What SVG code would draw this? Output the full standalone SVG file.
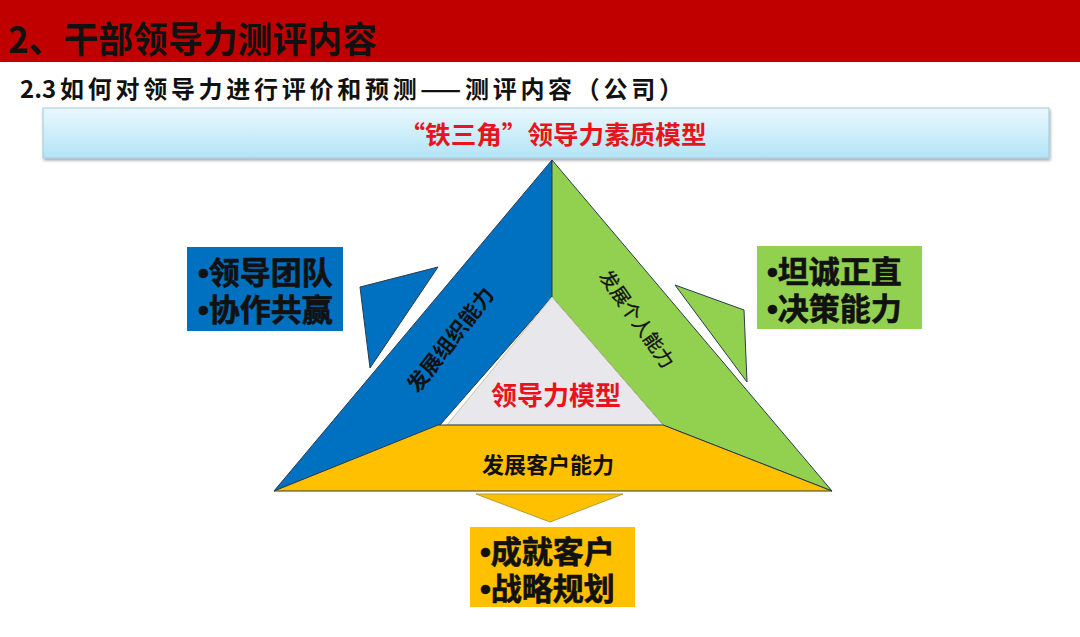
<svg xmlns="http://www.w3.org/2000/svg" width="1080" height="637" viewBox="0 0 1080 637">
<defs>
<linearGradient id="bannerGrad" x1="0" y1="0" x2="0" y2="1">
<stop offset="0" stop-color="#eaf8fd"/>
<stop offset="1" stop-color="#b3e4f6"/>
</linearGradient>
<filter id="shadow" x="-5%" y="-20%" width="110%" height="150%">
<feDropShadow dx="1" dy="2" stdDeviation="1.5" flood-color="#000" flood-opacity="0.35"/>
</filter>
</defs>
<style>
.cjk{font-family:"Noto Sans CJK SC","Noto Sans",sans-serif;font-weight:bold;}
.edge{stroke:#2b3b4d;stroke-width:1;stroke-linejoin:round;}
.box{font-size:31px;fill:#111;stroke:#111;stroke-width:0.6;}
.dot{font-family:"Liberation Sans",sans-serif;}
</style>
<rect x="0" y="0" width="1080" height="637" fill="#ffffff"/>
<g id="header">
<rect x="0" y="0" width="1080" height="62" fill="#c00000"/>
<text class="cjk" x="8" y="53" font-size="36" fill="#111" textLength="369" lengthAdjust="spacingAndGlyphs">2、干部领导力测评内容</text>
</g>
<g id="subtitle">
<text class="cjk" y="98" font-size="24" fill="#111"><tspan x="20">2.3</tspan><tspan x="60" textLength="623" lengthAdjust="spacing">如何对领导力进行评价和预测——测评内容（公司）</tspan></text>
</g>
<g id="banner">
<rect x="43" y="108" width="1006" height="50" fill="url(#bannerGrad)" stroke="#9fc9dc" stroke-width="1" filter="url(#shadow)"/>
<text class="cjk" x="553" y="144" font-size="25" fill="#e8141c" text-anchor="middle" textLength="307" lengthAdjust="spacingAndGlyphs">“铁三角”领导力素质模型</text>
</g>
<g id="blue-side">
<polygon class="edge" points="274,491 552,160 552,297 440,425" fill="#0070c0"/>
<text class="cjk" font-size="21" fill="#111" text-anchor="middle" transform="translate(451,340) rotate(-52)" dy="7">发展组织能力</text>
</g>
<g id="green-side">
<polygon class="edge" points="552,160 832,491 663,425 552,297" fill="#92d050"/>
<text font-family="Noto Sans CJK SC, sans-serif" font-size="19" fill="#111" stroke="#111" stroke-width="0.3" text-anchor="middle" transform="translate(637,319) rotate(55)" dy="7">发展个人能力</text>
</g>
<g id="core">
<polygon points="552,297 447,425 663,425" fill="#e8e7ec" stroke="#c9c2a0" stroke-width="1"/>
<text class="cjk" x="556" y="405" font-size="26" fill="#e8141c" text-anchor="middle">领导力模型</text>
</g>
<g id="yellow-side">
<polygon class="edge" points="274,491 438,425 663,425 832,491" fill="#ffc000" stroke="#8a7a3a"/>
<text class="cjk" x="548" y="473" font-size="22" fill="#111" text-anchor="middle">发展客户能力</text>
</g>
<g id="connectors">
<polygon class="edge" points="360,287 438,267 370,368" fill="#0070c0"/>
<polygon class="edge" points="675,285 744,310 747,382" fill="#92d050"/>
<polygon points="476,494 623,494 550,522" fill="#ffc000" stroke="#b89a3a" stroke-width="1"/>
</g>
<g id="box-left">
<rect x="187" y="247" width="156" height="84" fill="#0070c0"/>
<text class="cjk box"><tspan x="198" y="284"><tspan class="dot">•</tspan>领导团队</tspan><tspan x="198" y="321"><tspan class="dot">•</tspan>协作共赢</tspan></text>
</g>
<g id="box-right">
<rect x="757" y="246" width="165" height="83" fill="#92d050"/>
<text class="cjk box"><tspan x="767" y="283"><tspan class="dot">•</tspan>坦诚正直</tspan><tspan x="767" y="320"><tspan class="dot">•</tspan>决策能力</tspan></text>
</g>
<g id="box-bottom">
<rect x="470" y="527" width="165" height="80" fill="#ffc000"/>
<text class="cjk box"><tspan x="480" y="563"><tspan class="dot">•</tspan>成就客户</tspan><tspan x="480" y="600"><tspan class="dot">•</tspan>战略规划</tspan></text>
</g>
</svg>
